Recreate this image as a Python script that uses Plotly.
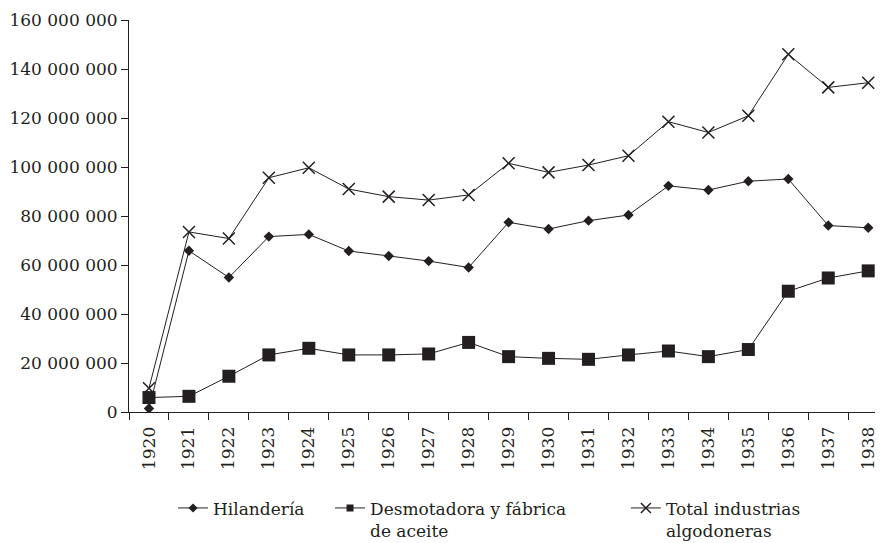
# plot.py - Industrias algodoneras, 1920-1938

import plotly.graph_objects as go

# Datos
anios = [str(a) for a in range(1920, 1939)]

hilanderia = [1.4e6, 65.8e6, 54.9e6, 71.6e6, 72.5e6, 65.7e6, 63.7e6, 61.6e6, 59.0e6, 77.4e6,
              74.7e6, 78.1e6, 80.4e6, 92.3e6, 90.6e6, 94.2e6, 95.1e6, 76.1e6, 75.2e6]

desmotadora = [5.9e6, 6.4e6, 14.6e6, 23.3e6, 26.0e6, 23.3e6, 23.3e6, 23.7e6, 28.4e6, 22.6e6,
               21.9e6, 21.5e6, 23.3e6, 24.9e6, 22.6e6, 25.5e6, 49.3e6, 54.7e6, 57.6e6]

total = [9.7e6, 73.5e6, 70.8e6, 95.6e6, 99.7e6, 91.0e6, 87.9e6, 86.5e6, 88.6e6, 101.5e6,
         97.8e6, 100.8e6, 104.6e6, 118.5e6, 114.1e6, 120.9e6, 146.0e6, 132.5e6, 134.4e6]

y_ticks = [0, 20e6, 40e6, 60e6, 80e6, 100e6, 120e6, 140e6, 160e6]
y_labels = ["0", "20 000 000", "40 000 000", "60 000 000", "80 000 000",
            "100 000 000", "120 000 000", "140 000 000", "160 000 000"]

nombres = ["Hilandería", "Desmotadora y fábrica<br>de aceite", "Total industrias<br>algodoneras"]

COLOR = "#231f20"
FUENTE = "DejaVu Serif"

# (serie, símbolo, tamaño en el gráfico, tamaño en la leyenda, leyenda)
series = [
    (hilanderia, "diamond", 8, 7, "legend"),
    (desmotadora, "square", 13, 7, "legend2"),
    (total, "x-thin", 12, 10, "legend3"),
]

fig = go.Figure()

for (valores, simbolo, tam, tam_ley, ley), nombre in zip(series, nombres):
    borde = dict(color=COLOR, width=1.5) if simbolo == "x-thin" else dict(width=0)
    fig.add_trace(go.Scatter(
        x=anios, y=valores, name=nombre, mode="lines+markers",
        line=dict(color=COLOR, width=1),
        marker=dict(symbol=simbolo, size=tam, color=COLOR, line=borde),
        showlegend=False,
    ))
    # entrada de leyenda con marcador más pequeño
    fig.add_trace(go.Scatter(
        x=[None], y=[None], name=nombre, mode="lines+markers",
        line=dict(color=COLOR, width=1),
        marker=dict(symbol=simbolo, size=tam_ley, color=COLOR, line=borde),
        legend=ley,
    ))

leyenda = dict(orientation="h", yanchor="top", xanchor="left", valign="top",
               font=dict(family=FUENTE, size=17, color=COLOR), bgcolor="rgba(0,0,0,0)")

# la página añade 8 px de margen al cuerpo: la figura se ajusta a eso
fig.update_layout(
    width=875, height=535,
    margin=dict(l=121, r=0, t=12, b=131, autoexpand=False),
    paper_bgcolor="white", plot_bgcolor="white",
    font=dict(family=FUENTE, size=17, color=COLOR),
    showlegend=True,
    legend=dict(leyenda, x=0.0584, y=-0.2),
    legend2=dict(leyenda, x=0.2666, y=-0.2),
    legend3=dict(leyenda, x=0.659, y=-0.2),
    xaxis=dict(
        type="category", range=[-0.5, 18.37],
        tickson="boundaries", ticks="outside", ticklen=7, tickcolor=COLOR,
        tickangle=-90, ticklabelstandoff=7,
        showline=True, linecolor=COLOR, linewidth=1,
        showgrid=False, zeroline=False,
        tickfont=dict(family=FUENTE, size=17, color=COLOR),
    ),
    yaxis=dict(
        range=[0, 160e6], tickvals=y_ticks, ticktext=y_labels,
        ticks="outside", ticklen=7, tickcolor=COLOR,
        showline=True, linecolor=COLOR, linewidth=1,
        showgrid=False, zeroline=False,
        tickfont=dict(family=FUENTE, size=17, color=COLOR),
    ),
)

fig.write_html("out.html")
